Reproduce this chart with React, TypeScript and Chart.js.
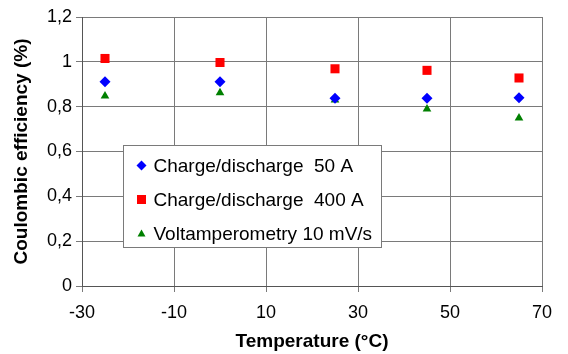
import React, { useEffect, useRef } from 'react';
import { Chart, registerables } from 'chart.js';

Chart.register(...registerables);

const temperatures = [-25, 0, 25, 45, 65];
const series50A = [0.911, 0.911, 0.837, 0.837, 0.84];
const series400A = [1.015, 0.997, 0.969, 0.962, 0.928];
const seriesVolt = [0.848, 0.862, 0.83, 0.79, 0.749];
const seriesLabels = ['Charge/discharge  50 A', 'Charge/discharge  400 A', 'Voltamperometry 10 mV/s'];
const seriesColors = ['#0000FF', '#FF0000', '#008000'];
const seriesShapes = ['rectRot', 'rect', 'triangle'];
const xTickRange = { min: -30, max: 70, step: 20 };
const yTickRange = { min: 0, max: 1.2, step: 0.2 };
const xTitle = 'Temperature (°C)';
const yTitle = 'Coulombic efficiency (%)';

const FONT = '"Liberation Sans", Arial, sans-serif';
const GRID = '#7a7a7a';
const AXIS = '#555555';

function drawMarker(ctx: CanvasRenderingContext2D, shape: string, x: number, y: number, color: string) {
  ctx.save();
  ctx.fillStyle = color;
  ctx.beginPath();
  if (shape === 'rectRot') {
    const r = 5;
    ctx.moveTo(x - r, y);
    ctx.lineTo(x, y - r);
    ctx.lineTo(x + r, y);
    ctx.lineTo(x, y + r);
  } else if (shape === 'rect') {
    const s = 4.5;
    ctx.rect(x - s, y - s, 2 * s, 2 * s);
  } else {
    const w = 4;
    ctx.moveTo(x, y - 4);
    ctx.lineTo(x + w, y + 3);
    ctx.lineTo(x - w, y + 3);
  }
  ctx.closePath();
  ctx.fill();
  ctx.restore();
}

const legendPlugin = {
  id: 'innerLegend',
  afterDatasetsDraw(chart: any) {
    const { ctx, chartArea } = chart;
    const left = chartArea.left + 41.5;
    const top = chartArea.top + 128.5;
    const w = 258;
    const h = 102;
    ctx.save();
    ctx.fillStyle = '#ffffff';
    ctx.fillRect(left, top, w, h);
    ctx.strokeStyle = GRID;
    ctx.lineWidth = 1;
    ctx.strokeRect(left, top, w, h);
    ctx.font = '19px ' + FONT;
    ctx.textBaseline = 'middle';
    ctx.textAlign = 'left';
    seriesLabels.forEach((label, i) => {
      const cy = top + 20 + i * 34;
      drawMarker(ctx, seriesShapes[i], left + 18, cy, seriesColors[i]);
      ctx.fillStyle = '#000000';
      ctx.fillText(label, left + 30, cy + 1);
    });
    ctx.restore();
  },
};

export default function App() {
  const ref = useRef<HTMLCanvasElement>(null);
  useEffect(() => {
    if (!ref.current) return;
    const mk = (vals: number[]) => temperatures.map((t, i) => ({ x: t, y: vals[i] }));
    const all = [series50A, series400A, seriesVolt];
    const radii = [5.5, 6.4, 5];
    const chart = new Chart(ref.current, {
      type: 'scatter',
      data: {
        datasets: all.map((vals, i) => ({
          label: seriesLabels[i],
          data: mk(vals),
          pointStyle: seriesShapes[i] as any,
          pointRadius: radii[i],
          pointHoverRadius: radii[i],
          backgroundColor: seriesColors[i],
          borderColor: seriesColors[i],
          borderWidth: 0,
          showLine: false,
        })),
      },
      options: {
        animation: false,
        responsive: false,
        events: [],
        layout: { padding: { left: 0, right: 26, top: 17, bottom: 0 } },
        plugins: { legend: { display: false }, tooltip: { enabled: false } },
        scales: {
          x: {
            type: 'linear',
            min: xTickRange.min,
            max: xTickRange.max,
            ticks: {
              stepSize: xTickRange.step,
              color: '#000',
              font: { family: FONT, size: 18 },
              padding: 10,
              maxRotation: 0,
            },
            grid: { color: GRID, tickLength: 6, lineWidth: 1 },
            border: { color: AXIS },
            title: {
              display: true,
              text: xTitle,
              color: '#000',
              font: { family: FONT, size: 19, weight: 'bold' },
              padding: { top: 0, bottom: 1 },
            },
            afterFit: (s: any) => { s.height = 68; },
          },
          y: {
            type: 'linear',
            min: yTickRange.min,
            max: yTickRange.max,
            ticks: {
              stepSize: yTickRange.step,
              color: '#000',
              font: { family: FONT, size: 18 },
              padding: 4,
              callback: (v: any) => String(Number(Number(v).toFixed(1))).replace('.', ','),
            },
            grid: { color: GRID, tickLength: 6, lineWidth: 1 },
            border: { color: AXIS },
            title: {
              display: true,
              text: yTitle,
              color: '#000',
              font: { family: FONT, size: 19, weight: 'bold' },
              padding: { top: 10, bottom: 0 },
            },
            afterFit: (s: any) => { s.width = 82; },
          },
        },
      },
      plugins: [legendPlugin],
    });
    return () => chart.destroy();
  }, []);
  return (
    <div style={{ position: 'fixed', left: 0, top: 0, width: 568, height: 354, background: '#fff' }}>
      <canvas ref={ref} width={568} height={354} style={{ width: 568, height: 354 }} />
    </div>
  );
}
